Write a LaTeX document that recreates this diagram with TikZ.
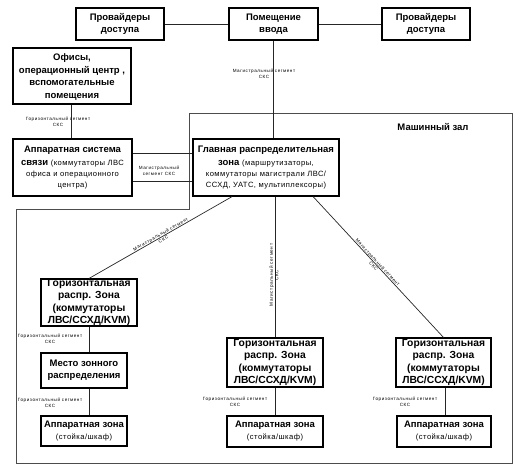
\documentclass[tikz,border=0pt]{standalone}
\usepackage{fontspec}
\setmainfont{Liberation Sans}
\newfontfamily\spacedfont[LetterSpace=6]{Liberation Sans}
\newfontfamily\tinyfont[LetterSpace=12]{Liberation Sans}
\usetikzlibrary{calc}
\begin{document}
\begin{tikzpicture}[x=1pt,y=-1pt,
  box/.style={draw=black, line width=1.1pt, fill=white, align=center, inner sep=1pt,
    font=\fontsize{9.5}{12}\selectfont\bfseries},
  hrzbox/.style={box, inner sep=0pt, font=\fontsize{10.3}{12.2}\selectfont\bfseries},
  conn/.style={draw=black!85, line width=0.7pt},
  hall/.style={draw=black!70, line width=1pt},
  tiny/.style={font=\tinyfont\fontsize{4.6}{5.6}\selectfont, align=center, inner sep=0.5pt},
]
\useasboundingbox (0,0) rectangle (522,470);
\newcommand{\nrm}[1]{{\mdseries\spacedfont\fontsize{7.6}{12}\selectfont #1}}

% machine hall outline
\draw[hall] (189,114) -- (512,114) -- (512,463) -- (16,463) -- (16,210) -- (189,210) -- cycle;
\node[font=\fontsize{9.5}{12}\selectfont\bfseries] (hallname) at (433,127) {Машинный зал};

% boxes
\node[box, minimum width=88, minimum height=32] (prov1) at (120,24) {Провайдеры\\доступа};
\node[box, minimum width=89, minimum height=32] (entry) at (273.5,24) {Помещение\\ввода};
\node[box, minimum width=88, minimum height=32] (prov2) at (426,24) {Провайдеры\\доступа};
\node[box, minimum width=118, minimum height=56, font=\fontsize{9.5}{12.7}\selectfont\bfseries] (office) at (72,76) {\rule{0pt}{9pt}Офисы,\\операционный центр ,\\вспомогательные\\помещения};
\node[box, minimum width=119, minimum height=57, font=\fontsize{9.5}{11}\selectfont\bfseries] (ass) at (72.5,167.5) {Аппаратная система\\[1.5pt]связи \nrm{(коммутаторы ЛВС}\\\nrm{офиса и операционного}\\\nrm{центра)}};
\node[box, minimum width=146, minimum height=57, font=\fontsize{9.5}{11}\selectfont\bfseries] (grz) at (266,167.5) {Главная распределительная\\[2pt]зона \nrm{(маршрутизаторы,}\\\nrm{коммутаторы магистрали ЛВС/}\\\nrm{ССХД, УАТС, мультиплексоры)}};
\node[hrzbox, minimum width=96, minimum height=47] (hrz1) at (89,302.5) {Горизонтальная\\распр. Зона\\(коммутаторы\\ЛВС/ССХД/KVM)};
\node[hrzbox, minimum width=96, minimum height=49] (hrz2) at (275,362.5) {Горизонтальная\\распр. Зона\\(коммутаторы\\ЛВС/ССХД/KVM)};
\node[hrzbox, minimum width=95, minimum height=49] (hrz3) at (443.5,362.5) {Горизонтальная\\распр. Зона\\(коммутаторы\\ЛВС/ССХД/KVM)};
\node[box, minimum width=86, minimum height=35] (mzr) at (84,370.5) {Место зонного\\распределения};
\node[box, minimum width=86, minimum height=30] (az1) at (84,431) {Аппаратная зона\\\nrm{(стойка/шкаф)}};
\node[box, minimum width=96, minimum height=31] (az2) at (275,431.5) {Аппаратная зона\\\nrm{(стойка/шкаф)}};
\node[box, minimum width=94, minimum height=31] (az3) at (444,431.5) {Аппаратная зона\\\nrm{(стойка/шкаф)}};

% connectors
\draw[conn] (prov1.east) -- (entry.west);
\draw[conn] (entry.east) -- (prov2.west);
\draw[conn] (entry.south) -- (entry.south |- grz.north);
\draw[conn] (office.south -| 71,0) -- (ass.north -| 71,0);
\draw[conn] ($(ass.north east)!0.25!(ass.south east)$) -- ($(grz.north west)!0.25!(grz.south west)$);
\draw[conn] ($(ass.north east)!0.74!(ass.south east)$) -- ($(grz.north west)!0.74!(grz.south west)$);
\draw[conn] ($(grz.south west)!0.27!(grz.south east)$) -- node[tiny, sloped, pos=0.49] {Магистральный сегмент\\СКС} (hrz1.north);
\draw[conn] (hrz2.north |- grz.south) -- (hrz2.north);
\draw[conn] ($(grz.south west)!0.82!(grz.south east)$) -- node[tiny, sloped, pos=0.48] {Магистральный сегмент\\СКС} (hrz3.north);
\draw[conn] (hrz1.south) -- (hrz1.south |- mzr.north);
\draw[conn] (hrz1.south |- mzr.south) -- (hrz1.south |- az1.north);
\draw[conn] (hrz2.south) -- (az2.north);
\draw[conn] (hrz3.south -| 445,0) -- (az3.north -| 445,0);

% segment labels
\node[tiny] (l1) at (264,74) {Магистральный сегмент\\СКС};
\node[tiny] (l2) at (58,122) {Горизонтальный сегмент\\СКС};
\node[tiny] (l3) at (159,171) {Магистральный\\сегмент СКС};
\node[tiny, rotate=90] (l4) at (274,275) {Магистральный сегмент\\СКС};
\node[tiny] (l5) at (50,339) {Горизонтальный сегмент\\СКС};
\node[tiny] (l6) at (50,403) {Горизонтальный сегмент\\СКС};
\node[tiny] (l7) at (235,402) {Горизонтальный сегмент\\СКС};
\node[tiny] (l8) at (405,402) {Горизонтальный сегмент\\СКС};
\end{tikzpicture}
\end{document}
